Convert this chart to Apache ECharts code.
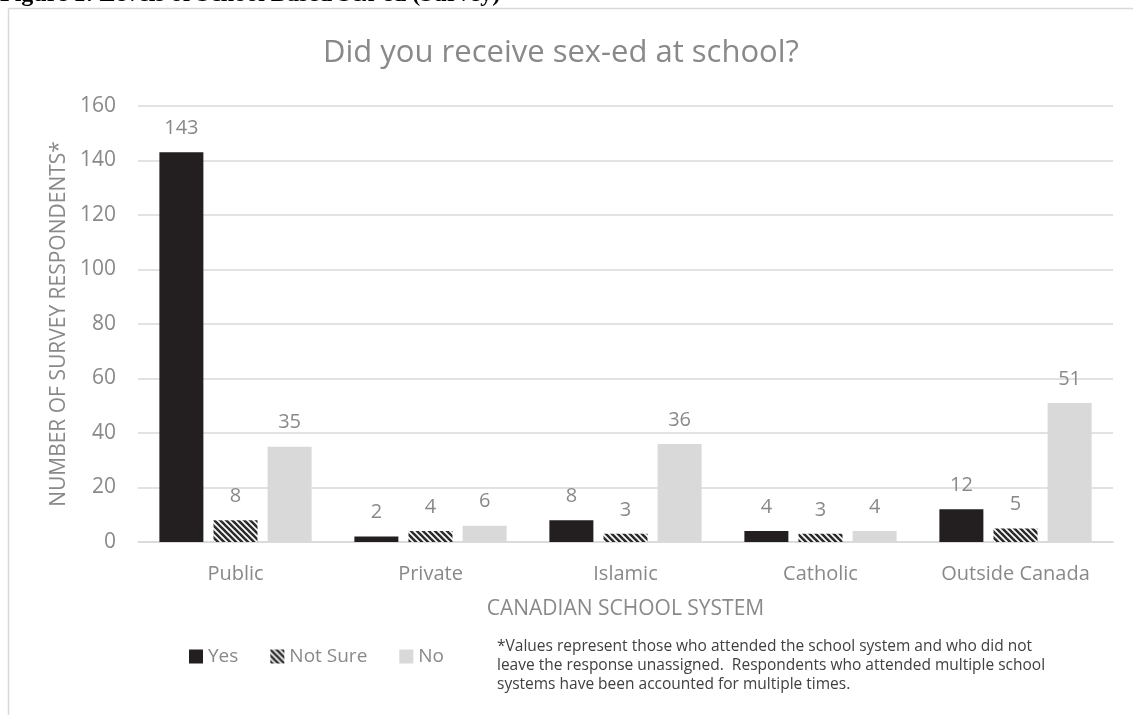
<!DOCTYPE html>
<html>
<head>
<meta charset="utf-8">
<script src="https://cdn.jsdelivr.net/npm/echarts@6/dist/echarts.min.js"></script>
<style>
  html, body { margin: 0; padding: 0; background: #ffffff; }
  #chart { width: 1133px; height: 715px; }
</style>
</head>
<body>
<div id="chart"></div>
<script>
const categories = ['Public', 'Private', 'Islamic', 'Catholic', 'Outside Canada'];
const yesValues = [143, 2, 8, 4, 12];
const notSureValues = [8, 4, 3, 3, 5];
const noValues = [35, 6, 36, 4, 51];
const seriesNames = ['Yes', 'Not Sure', 'No'];
const titleText = 'Did you receive sex-ed at school?';
const figureCaption = 'Figure 1: Levels of School Based Sex-ed (Survey)';
const yAxisTitle = 'NUMBER OF SURVEY RESPONDENTS*';
const xAxisTitle = 'CANADIAN SCHOOL SYSTEM';
const footnote = '*Values represent those who attended the school system and who did not\nleave the response unassigned.  Respondents who attended multiple school\nsystems have been accounted for multiple times.';

function makeHatch() {
  const p = 6;
  const c = document.createElement('canvas');
  c.width = p; c.height = p;
  const ctx = c.getContext('2d');
  ctx.fillStyle = '#ffffff';
  ctx.fillRect(0, 0, p, p);
  ctx.strokeStyle = '#2b2b2b';
  ctx.lineWidth = 2.6;
  for (let k = -1; k <= 1; k++) {
    ctx.beginPath();
    ctx.moveTo(k * p - 1, -1);
    ctx.lineTo(k * p + p + 1, p + 1);
    ctx.stroke();
  }
  return c;
}

const FONT = 'Open Sans';
const GRAY = '#898989';
const chart = echarts.init(document.getElementById('chart'), null, { renderer: 'canvas' });
const hatch = { image: makeHatch(), repeat: 'repeat' };

const labelCfg = { show: true, position: 'top', distance: 14, color: GRAY, fontFamily: FONT, fontSize: 20 };

chart.setOption({
  backgroundColor: '#ffffff',
  animation: false,
  title: {
    text: titleText,
    left: 318, top: 33,
    textStyle: { color: GRAY, fontFamily: FONT, fontSize: 31, fontWeight: 'normal' }
  },
  grid: { left: 138, right: 20, top: 106, bottom: 173, containLabel: false },
  legend: {
    left: 184, top: 642,
    itemWidth: 14, itemHeight: 14, itemGap: 32,
    icon: 'rect',
    textStyle: { color: GRAY, fontFamily: FONT, fontSize: 19 },
    data: seriesNames
  },
  xAxis: {
    type: 'category',
    data: categories,
    axisLine: { lineStyle: { color: '#d9d9d9', width: 1.5 } },
    axisTick: { show: false },
    axisLabel: { color: GRAY, fontFamily: FONT, fontSize: 20, margin: 22 },
    name: xAxisTitle,
    nameLocation: 'middle',
    nameGap: 57,
    nameTextStyle: { color: GRAY, fontFamily: FONT, fontSize: 21 }
  },
  yAxis: {
    type: 'value',
    min: 0, max: 160, interval: 20,
    axisLine: { show: false },
    axisTick: { show: false },
    splitLine: { lineStyle: { color: '#d9d9d9', width: 1.5 } },
    axisLabel: { color: GRAY, fontFamily: FONT, fontSize: 21, margin: 22 },
    name: yAxisTitle,
    nameLocation: 'middle',
    nameRotate: 90,
    nameGap: 68,
    nameTextStyle: { color: GRAY, fontFamily: FONT, fontSize: 21 }
  },
  series: [
    { name: seriesNames[0], type: 'bar', data: yesValues, barWidth: 44, barGap: '23%',
      itemStyle: { color: '#231f20' }, label: labelCfg },
    { name: seriesNames[1], type: 'bar', data: notSureValues, barWidth: 44, barGap: '23%',
      itemStyle: { color: hatch }, label: labelCfg },
    { name: seriesNames[2], type: 'bar', data: noValues, barWidth: 44, barGap: '23%',
      itemStyle: { color: '#d9d9d9' }, label: labelCfg }
  ],
  graphic: [
    { type: 'line', shape: { x1: 8.5, y1: 8.5, x2: 1133, y2: 8.5 }, style: { stroke: '#d9d9d9', lineWidth: 1.5 } },
    { type: 'line', shape: { x1: 8.5, y1: 8.5, x2: 8.5, y2: 715 }, style: { stroke: '#d9d9d9', lineWidth: 1.5 } },
    { type: 'text', left: 0, top: -17,
      style: { text: figureCaption, fill: '#000000', font: 'bold 24px "Liberation Serif"' } },
    { type: 'text', left: 497, top: 637,
      style: { text: footnote, fill: '#404040', font: '15.5px "Open Sans"', lineHeight: 19 } }
  ]
});
</script>
</body>
</html>
